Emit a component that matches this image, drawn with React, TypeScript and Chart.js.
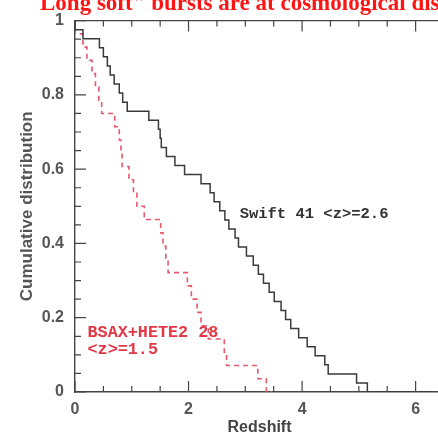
import React, { useEffect, useRef } from "react";
import { Chart, registerables } from "chart.js";

Chart.register(...registerables);

// Redshifts (sorted)
const swiftRedshifts = [
  0.14, 0.43, 0.5, 0.57, 0.62, 0.69, 0.78, 0.84, 0.92, 1.3, 1.47, 1.5, 1.52, 1.61,
  1.76, 1.93, 2.22, 2.38, 2.45, 2.55, 2.64, 2.71, 2.82, 2.88, 3.02, 3.14, 3.23,
  3.32, 3.42, 3.51, 3.63, 3.71, 3.8, 3.94, 4.09, 4.23, 4.4, 4.46, 4.96, 5.15, 6.29,
];
const bsaxHeteRedshifts = [
  0.14, 0.21, 0.3, 0.36, 0.42, 0.47, 0.7, 0.78, 0.81, 0.83, 0.95, 1.03, 1.09, 1.22,
  1.51, 1.55, 1.6, 1.64, 1.98, 2.05, 2.15, 2.22, 2.35, 2.63, 2.67, 3.22, 3.37, 3.47,
];

const xMajorTicks = [0, 2, 4, 6];
const yMajorTicks = [0, 0.2, 0.4, 0.6, 0.8, 1];

const titleText = "Long soft\" bursts are at cosmological distances";
const swiftLabel = "Swift 41 <z>=2.6";
const bsaxLabel1 = "BSAX+HETE2 28";
const bsaxLabel2 = "<z>=1.5";
const xTitle = "Redshift";
const yTitle = "Cumulative distribution";

const AXIS = "#454545";
const SANS = "'Liberation Sans', Arial, sans-serif";
const MONO = "'Liberation Mono', 'DejaVu Sans Mono', monospace";
const SERIF = "'Liberation Serif', 'Times New Roman', serif";

function survival(zs: number[]) {
  const n = zs.length;
  const pts = [{ x: 0, y: 1 }];
  zs.forEach((z, i) => pts.push({ x: z, y: (n - i - 1) / n }));
  return pts;
}

const near = (v: number, list: number[]) => list.some((m) => Math.abs(v - m) < 1e-6);

const decorPlugin = {
  id: "decor",
  afterDraw(chart: any) {
    const { ctx, chartArea: a } = chart;
    const xs = chart.scales.x;
    const ys = chart.scales.y;
    ctx.save();
    ctx.setLineDash([]);
    ctx.strokeStyle = AXIS;
    ctx.lineWidth = 1.4;
    ctx.beginPath();
    ctx.moveTo(a.left, a.top);
    ctx.lineTo(a.right, a.top);
    ctx.stroke();
    ctx.lineWidth = 1.2;
    ctx.beginPath();
    xs.ticks.forEach((t: any) => {
      const px = xs.getPixelForValue(t.value);
      const len = near(t.value, xMajorTicks) ? 11 : 6;
      ctx.moveTo(px, a.bottom);
      ctx.lineTo(px, a.bottom - len);
      ctx.moveTo(px, a.top);
      ctx.lineTo(px, a.top + len);
    });
    ys.ticks.forEach((t: any) => {
      const py = ys.getPixelForValue(t.value);
      const len = near(t.value, yMajorTicks) ? 11 : 6;
      ctx.moveTo(a.left, py);
      ctx.lineTo(a.left + len, py);
    });
    ctx.stroke();

    // annotations
    ctx.textBaseline = "middle";
    ctx.textAlign = "left";
    ctx.font = `bold 15.5px ${MONO}`;
    ctx.fillStyle = "#333";
    ctx.fillText(swiftLabel, xs.getPixelForValue(2.9), ys.getPixelForValue(0.479));
    ctx.font = `bold 16.8px ${MONO}`;
    ctx.fillStyle = "#e23846";
    ctx.fillText(bsaxLabel1, xs.getPixelForValue(0.22), ys.getPixelForValue(0.16));
    ctx.fillText(bsaxLabel2, xs.getPixelForValue(0.22), ys.getPixelForValue(0.113));

    // page title, clipped by the top edge
    ctx.textBaseline = "alphabetic";
    ctx.font = `bold 23px ${SERIF}`;
    ctx.fillStyle = "rgb(255, 20, 20)";
    ctx.fillText(titleText, 40, 9.5);
    ctx.restore();
  },
};

export default function App() {
  const ref = useRef<HTMLCanvasElement | null>(null);
  useEffect(() => {
    if (!ref.current) return;
    const chart = new Chart(ref.current, {
      type: "line",
      data: {
        datasets: [
          {
            label: "Swift",
            data: survival(swiftRedshifts),
            stepped: "after",
            borderColor: "#3a3a3a",
            borderWidth: 1.5,
            pointRadius: 0,
            fill: false,
          },
          {
            label: "BSAX+HETE2",
            data: survival(bsaxHeteRedshifts),
            stepped: "after",
            borderColor: "#e4586a",
            borderWidth: 1.6,
            borderDash: [5, 4],
            pointRadius: 0,
            fill: false,
          },
        ],
      },
      options: {
        responsive: false,
        animation: false,
        devicePixelRatio: 1,
        layout: { padding: { top: 15, right: 0, left: 0, bottom: 0 } },
        plugins: { legend: { display: false }, tooltip: { enabled: false } },
        scales: {
          x: {
            type: "linear",
            min: 0,
            max: 6.5,
            grid: { display: false, drawTicks: false },
            border: { display: true, color: AXIS, width: 1.4 },
            ticks: {
              stepSize: 0.5,
              autoSkip: false,
              maxRotation: 0,
              padding: 8,
              color: "#555",
              font: { family: SANS, size: 16, weight: "bold" },
              callback: (v: any) => (near(Number(v), xMajorTicks) ? String(v) : ""),
            },
            title: {
              display: true,
              text: xTitle,
              color: "#444",
              font: { family: SANS, size: 16, weight: "bold", lineHeight: 1 },
              padding: { top: 0, bottom: 0 },
            },
            afterFit: (s: any) => {
              s.height = 44;
            },
          },
          y: {
            type: "linear",
            min: 0,
            max: 1,
            grid: { display: false, drawTicks: false },
            border: { display: true, color: AXIS, width: 1.4 },
            ticks: {
              stepSize: 0.05,
              autoSkip: false,
              padding: 11,
              color: "#555",
              font: { family: SANS, size: 16, weight: "bold" },
              callback: (v: any) => {
                const n = Number(v);
                if (!near(n, yMajorTicks)) return "";
                if (Math.abs(n) < 1e-6) return "0";
                if (Math.abs(n - 1) < 1e-6) return "1";
                return n.toFixed(1);
              },
            },
            title: {
              display: true,
              text: yTitle,
              color: "#555",
              font: { family: SANS, size: 17, weight: "bold", lineHeight: 1.2 },
              padding: { top: 17, bottom: 0 },
            },
            afterFit: (s: any) => {
              s.width = 75;
            },
          },
        },
      },
      plugins: [decorPlugin],
    } as any);
    return () => chart.destroy();
  }, []);

  return (
    <div
      style={{
        position: "fixed",
        left: 0,
        top: 0,
        width: 438,
        height: 436,
        overflow: "hidden",
        background: "#fff",
      }}
    >
      <canvas ref={ref} width={452} height={436} style={{ width: 452, height: 436, display: "block" }} />
    </div>
  );
}
